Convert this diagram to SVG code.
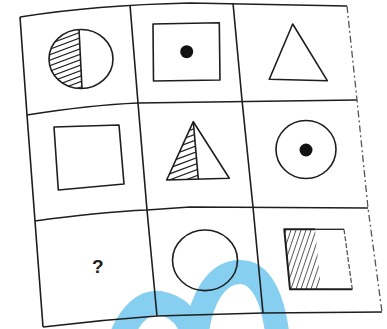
<svg xmlns="http://www.w3.org/2000/svg" width="387" height="329" viewBox="0 0 387 329">
<style>
.grid{fill:none;stroke:#1e1e1e;stroke-width:1.6;stroke-linejoin:round}
.faint{fill:none;stroke:#555;stroke-width:1.3;stroke-dasharray:7 3 2 3}
.shape{fill:none;stroke:#1e1e1e;stroke-width:1.6;stroke-linejoin:round}
.hatch{fill:none;stroke:#222;stroke-width:1.2}
.hatch2{fill:none;stroke:#444;stroke-width:0.9}
.dot{fill:#111}
.q{font-family:"Liberation Sans",Arial,sans-serif;font-weight:bold;font-size:19px;fill:#1a1a1a}
.wm{fill:none;stroke:#86cff1;stroke-width:24;stroke-linecap:butt;stroke-linejoin:round}
</style>
<defs>
<clipPath id="cHalf"><path d="M79 29.56 A32 29.5 0 0 0 82 88.49 Z"/></clipPath>
<clipPath id="cTri"><path d="M193.3 121.7 L166.7 180 L198.3 179 Z"/></clipPath>
<clipPath id="cRect"><path d="M284.3 229.3 L315 229.3 L321 289.3 L290 289.3 Z"/></clipPath>
</defs>
<rect width="387" height="329" fill="#fff"/>
<g id="watermark">
<path class="wm" d="M120 340 C130 312 146 301 160 303 C178 306 190 318 194 340"/>
<path class="wm" d="M196 340 C200 296 218 272 240 272 C262 272 274 300 278 340"/>
</g>
<g id="connectors">
<path class="grid" d="M20 17 Q95 5 190 3 L347 6"/>
<path class="grid" d="M20 17 L27 115 L35 221 L43 327"/>
<path class="grid" d="M27 115 Q90 105 138 103 L357 100"/>
<path class="grid" d="M35 221 Q100 212 147 210 L190 207 L368 208"/>
<path class="grid" d="M43 327 Q100 320 157 316 L263 313 L382 312"/>
<path class="grid" d="M130 5 L138 103 L147 210 L157 316"/>
<path class="grid" d="M233 3 L242 100 L253 207 L263 313"/>
<path class="faint" d="M347 6 L357 100 L368 208 L382 312"/>
</g>
<g id="cell-1-1">
<g clip-path="url(#cHalf)">
<path class="hatch" d="M44 35 L86 19 M44 40.5 L86 24.5 M44 46 L86 30 M44 51.5 L86 35.5 M44 57 L86 41 M44 62.5 L86 46.5 M44 68 L86 52 M44 73.5 L86 57.5 M44 79 L86 63 M44 84.5 L86 68.5 M44 90 L86 74 M44 95.5 L86 79.5 M44 101 L86 85 M44 106.5 L86 90.5"/>
</g>
<ellipse class="shape" cx="81" cy="59" rx="32" ry="29.5"/>
<path class="shape" d="M79 29.56 L82 88.49"/>
</g>
<g id="cell-1-2">
<path class="shape" d="M153 24 L219.3 22.7 L220 80 L153.5 81 Z"/>
<circle class="dot" cx="186.7" cy="51.7" r="6.5"/>
</g>
<g id="cell-1-3">
<path class="shape" d="M292.7 24 L269.3 79.3 L327.3 80.7 Z"/>
</g>
<g id="cell-2-1">
<path class="shape" d="M54 127 L119 125 L124 184 L58.3 190 Z"/>
</g>
<g id="cell-2-2">
<g clip-path="url(#cTri)">
<path class="hatch" d="M164 128 L200 114.5 M164 134 L200 120.5 M164 140 L200 126.5 M164 146 L200 132.5 M164 152 L200 138.5 M164 158 L200 144.5 M164 164 L200 150.5 M164 170 L200 156.5 M164 176 L200 162.5 M164 182 L200 168.5 M164 188 L200 174.5 M164 194 L200 180.5"/>
</g>
<path class="shape" d="M193.3 121.7 L166.7 180 L229.3 178.3 Z"/>
<path class="shape" d="M193.3 121.7 L198.3 179"/>
</g>
<g id="cell-2-3">
<ellipse class="shape" cx="306" cy="149.5" rx="30" ry="29"/>
<circle class="dot" cx="306" cy="150" r="6.5"/>
</g>
<g id="cell-3-1">
<text class="q" x="97.7" y="273" text-anchor="middle">?</text>
</g>
<g id="cell-3-2">
<ellipse class="shape" cx="205" cy="260.3" rx="32.5" ry="30.3"/>
</g>
<g id="cell-3-3">
<g clip-path="url(#cRect)">
<path class="hatch2" d="M265 292 L286 230 M270 292 L291 230 M275 292 L296 230 M280 292 L301 230 M285 292 L306 230 M290 292 L311 230 M295 292 L316 230 M300 292 L321 230 M305 292 L326 230 M310 292 L331 230 M315 292 L336 230 M320 292 L341 230"/>
</g>
<path class="shape" d="M352.3 289.3 L290 289.3 L284.3 229.3 L315 229.3" style="stroke-width:2"/>
<path class="shape" d="M315 229.3 L344 229.3" style="stroke-width:1.3"/>
<path class="faint" d="M344 229.3 L352.3 289.3" style="stroke-dasharray:5 2"/>
</g>
</svg>
